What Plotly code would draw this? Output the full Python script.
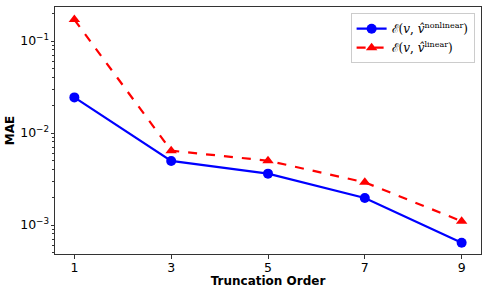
import plotly.graph_objects as go

orders = [1, 3, 5, 7, 9]
mae_nonlinear = [0.0244, 0.00497, 0.00362, 0.00197, 0.000642]
mae_linear = [0.171, 0.00643, 0.0050, 0.00291, 0.0011]
x_ticks = [1, 3, 5, 7, 9]
y_ticks = [1e-3, 1e-2, 1e-1]
y_tick_labels = ["10<sup>−3</sup>", "10<sup>−2</sup>", "10<sup>−1</sup>"]
series_names = [
    "ℰ(<i>v</i>, <i>v̂</i><sup><span style='font-size:8px'>nonlinear</span></sup>)",
    "ℰ(<i>v</i>, <i>v̂</i><sup><span style='font-size:8px'>linear</span></sup>)",
]

fig = go.Figure()
fig.add_trace(go.Scatter(
    x=orders, y=mae_nonlinear, mode="lines+markers",
    name=series_names[0],
    line=dict(color="#0000ff", width=2.2),
    marker=dict(symbol="circle", size=10, color="#0000ff"),
))
fig.add_trace(go.Scatter(
    x=orders, y=mae_linear, mode="lines+markers",
    name=series_names[1],
    line=dict(color="#ff0000", width=2.2, dash="dash"),
    marker=dict(symbol="triangle-up", size=10, color="#ff0000"),
))

axis_common = dict(
    showgrid=False, zeroline=False, showline=True, mirror=True, automargin=False,
    linecolor="#333333", linewidth=1, ticks="outside", ticklen=3.5,
    tickcolor="#333333", tickfont=dict(family="DejaVu Sans", size=12.5, color="black"),
)

fig.update_layout(
    width=488, height=293,
    margin=dict(l=55, r=7, t=7, b=39),
    paper_bgcolor="white", plot_bgcolor="white",
    showlegend=True,
    legend=dict(
        x=0.985, y=0.975, xanchor="right", yanchor="top",
        bgcolor="rgba(255,255,255,0.8)", bordercolor="#cccccc", borderwidth=1,
        font=dict(family="DejaVu Serif", size=12, color="black"),
        tracegroupgap=0, itemwidth=30,
    ),
    xaxis=dict(
        **axis_common, range=[0.6, 9.4], tickvals=x_ticks, ticklabelstandoff=-2,
        title=dict(text="<b>Truncation Order</b>", standoff=0,
                   font=dict(family="DejaVu Sans", size=12, color="black")),
    ),
    yaxis=dict(
        **axis_common, type="log", range=[-3.315, -0.630],
        tickvals=y_ticks, ticktext=y_tick_labels, ticklabelstandoff=-1,
        minor=dict(ticks="outside", ticklen=2, tickcolor="#333333",
                   tickvals=[k * 10 ** e for e in (-4, -3, -2, -1) for k in range(2, 10)]),
        title=dict(text="<b>MAE</b>", standoff=2,
                   font=dict(family="DejaVu Sans", size=12, color="black")),
    ),
)

fig.write_html("out.html", config={"displayModeBar": False},
               post_script="document.body.style.margin='0';")
